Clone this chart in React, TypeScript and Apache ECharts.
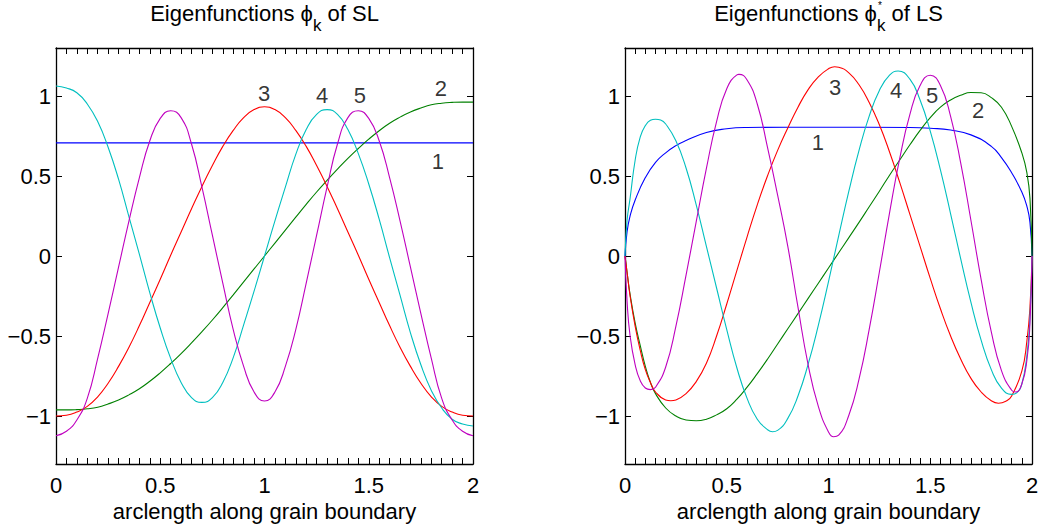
import React, { useEffect, useRef } from 'react';
import * as echarts from 'echarts';

const FONT = '"Liberation Sans", Arial, Helvetica, sans-serif';
const FS = 22;

// ---------- axes ----------
const xTicks = [0, 0.5, 1, 1.5, 2];
const yTicks = [-1, -0.5, 0, 0.5, 1];
const curveIds = ['1', '2', '3', '4', '5'];
const lineColors = ['#0000ff', '#008000', '#ff0000', '#00bfbf', '#bf00bf'];

// ---------- left panel: eigenfunctions of SL ----------
const slX = [0, 0.05, 0.1, 0.15, 0.2, 0.25, 0.3, 0.35, 0.4, 0.45, 0.5, 0.55, 0.6, 0.65, 0.7, 0.75, 0.8, 0.85, 0.9, 0.95, 1,
  1.05, 1.1, 1.15, 1.2, 1.25, 1.3, 1.35, 1.4, 1.45, 1.5, 1.55, 1.6, 1.65, 1.7, 1.75, 1.8, 1.85, 1.9, 1.95, 2];
const slBlueX = [0, 2];
const slBlue = [0.707, 0.707];
const slGreen = [-0.962, -0.962, -0.96, -0.955, -0.945, -0.925, -0.9, -0.868, -0.83, -0.783, -0.73, -0.672, -0.61, -0.543, -0.473, -0.4, -0.323, -0.243, -0.162, -0.081, 0,
  0.081, 0.162, 0.243, 0.323, 0.4, 0.473, 0.543, 0.61, 0.672, 0.73, 0.783, 0.83, 0.868, 0.9, 0.925, 0.945, 0.955, 0.96, 0.962, 0.962];
const slRed = [-1.0, -0.995, -0.975, -0.94, -0.88, -0.795, -0.69, -0.57, -0.435, -0.29, -0.145, 0.005, 0.15, 0.295, 0.435, 0.565, 0.685, 0.785, 0.865, 0.915, 0.933,
  0.915, 0.865, 0.785, 0.685, 0.565, 0.435, 0.295, 0.15, 0.005, -0.145, -0.29, -0.435, -0.57, -0.69, -0.795, -0.88, -0.94, -0.975, -0.995, -1.0];
const slCyan = [1.0625, 1.05, 1.02, 0.95, 0.84, 0.68, 0.48, 0.245, 0.01, -0.23, -0.45, -0.64, -0.79, -0.885, -0.915, -0.885, -0.79, -0.635, -0.43, -0.22, 0,
  0.22, 0.43, 0.635, 0.79, 0.885, 0.915, 0.885, 0.79, 0.64, 0.45, 0.23, -0.01, -0.245, -0.48, -0.68, -0.84, -0.95, -1.02, -1.05, -1.0625];
const slMagenta = [-1.123, -1.095, -1.025, -0.89, -0.64, -0.36, -0.07, 0.22, 0.49, 0.72, 0.86, 0.908, 0.865, 0.7, 0.43, 0.13, -0.17, -0.46, -0.69, -0.85, -0.906,
  -0.85, -0.69, -0.46, -0.17, 0.13, 0.43, 0.7, 0.865, 0.908, 0.86, 0.72, 0.49, 0.22, -0.07, -0.36, -0.64, -0.89, -1.025, -1.095, -1.123];
const slLabelPos = [[1.832, 0.592], [1.846, 1.048], [0.998, 1.017], [1.276, 1.004], [1.458, 1.004]];

// ---------- right panel: eigenfunctions of LS ----------
const lsBlue = [[0, 0], [0.01, 0.15], [0.025, 0.25], [0.05, 0.35], [0.1, 0.49], [0.15, 0.585], [0.2, 0.645], [0.25, 0.69], [0.3, 0.722], [0.4, 0.772], [0.5, 0.795], [0.6, 0.803], [0.8, 0.805], [1.0, 0.805], [1.2, 0.805], [1.4, 0.803], [1.5, 0.798], [1.6, 0.787], [1.7, 0.757], [1.8, 0.685], [1.85, 0.615], [1.9, 0.52], [1.95, 0.4], [1.975, 0.31], [1.99, 0.21], [2, 0]];
const lsGreen = [[0, 0], [0.01, -0.1], [0.025, -0.24], [0.05, -0.42], [0.075, -0.56], [0.1, -0.69], [0.125, -0.79], [0.15, -0.86], [0.2, -0.95], [0.25, -1.0], [0.3, -1.025], [0.35, -1.03], [0.4, -1.02], [0.45, -0.993], [0.5, -0.955], [0.55, -0.895], [0.6, -0.82], [0.65, -0.735], [0.7, -0.645], [0.75, -0.55], [0.8, -0.455], [0.85, -0.36], [0.9, -0.265], [0.95, -0.17], [1.0, -0.075], [1.05, 0.02], [1.1, 0.115], [1.15, 0.21], [1.2, 0.308], [1.25, 0.405], [1.3, 0.505], [1.35, 0.6], [1.4, 0.695], [1.45, 0.785], [1.5, 0.865], [1.55, 0.93], [1.6, 0.975], [1.65, 1.005], [1.7, 1.022], [1.75, 1.02], [1.8, 0.99], [1.85, 0.93], [1.9, 0.81], [1.95, 0.645], [1.975, 0.52], [1.99, 0.36], [2, 0]];
const lsRed = [[0, 0], [0.01, -0.1], [0.025, -0.25], [0.05, -0.44], [0.075, -0.59], [0.1, -0.71], [0.125, -0.79], [0.15, -0.85], [0.2, -0.9], [0.225, -0.905], [0.25, -0.9], [0.3, -0.86], [0.35, -0.785], [0.4, -0.67], [0.45, -0.5], [0.5, -0.3], [0.55, -0.09], [0.6, 0.12], [0.65, 0.32], [0.7, 0.5], [0.75, 0.66], [0.8, 0.8], [0.85, 0.93], [0.9, 1.04], [0.95, 1.12], [1.0, 1.17], [1.03, 1.183], [1.05, 1.18], [1.1, 1.145], [1.15, 1.07], [1.2, 0.96], [1.25, 0.82], [1.3, 0.65], [1.35, 0.46], [1.4, 0.26], [1.45, 0.06], [1.5, -0.14], [1.55, -0.33], [1.6, -0.5], [1.65, -0.645], [1.7, -0.765], [1.75, -0.85], [1.8, -0.905], [1.835, -0.92], [1.875, -0.905], [1.9, -0.875], [1.95, -0.72], [1.975, -0.53], [1.99, -0.32], [2, 0]];
const lsCyan = [[0, 0], [0.01, 0.22], [0.025, 0.36], [0.05, 0.6], [0.075, 0.745], [0.1, 0.815], [0.125, 0.848], [0.15, 0.855], [0.175, 0.85], [0.2, 0.825], [0.25, 0.72], [0.3, 0.55], [0.35, 0.32], [0.4, 0.06], [0.45, -0.2], [0.5, -0.46], [0.55, -0.7], [0.6, -0.89], [0.65, -1.02], [0.7, -1.085], [0.725, -1.098], [0.75, -1.09], [0.8, -1.015], [0.85, -0.875], [0.9, -0.676], [0.95, -0.433], [1.0, -0.16], [1.05, 0.126], [1.1, 0.405], [1.15, 0.66], [1.2, 0.874], [1.25, 1.035], [1.3, 1.13], [1.342, 1.156], [1.4, 1.105], [1.45, 0.975], [1.5, 0.78], [1.55, 0.538], [1.6, 0.264], [1.65, -0.02], [1.7, -0.29], [1.75, -0.526], [1.8, -0.71], [1.85, -0.826], [1.9, -0.865], [1.925, -0.855], [1.95, -0.8], [1.975, -0.62], [1.99, -0.38], [2, 0]];
const lsMagenta = [[0, 0], [0.01, -0.28], [0.025, -0.5], [0.05, -0.68], [0.075, -0.78], [0.1, -0.825], [0.125, -0.835], [0.15, -0.82], [0.2, -0.694], [0.25, -0.44], [0.3, -0.12], [0.35, 0.215], [0.4, 0.547], [0.45, 0.84], [0.5, 1.045], [0.55, 1.132], [0.56, 1.135], [0.6, 1.1], [0.65, 0.95], [0.7, 0.68], [0.75, 0.38], [0.8, 0.06], [0.85, -0.32], [0.9, -0.68], [0.95, -0.94], [1.0, -1.1], [1.025, -1.13], [1.05, -1.12], [1.1, -0.995], [1.15, -0.77], [1.2, -0.459], [1.25, -0.1], [1.3, 0.27], [1.35, 0.61], [1.4, 0.885], [1.45, 1.065], [1.5, 1.13], [1.55, 1.066], [1.6, 0.873], [1.65, 0.579], [1.7, 0.222], [1.75, -0.146], [1.8, -0.474], [1.85, -0.716], [1.9, -0.839], [1.92, -0.85], [1.95, -0.8], [1.975, -0.65], [1.99, -0.42], [2, 0]];
const lsLabelPos = [[0.948, 0.71], [1.735, 0.91], [1.032, 1.054], [1.332, 1.036], [1.509, 1.004]];

const xLabel = 'arclength along grain boundary';
const titleLeft = ['Eigenfunctions \u03D5', 'k', ' of SL'];
const titleRight = ['Eigenfunctions \u03D5', 'k', ' of LS'];

function textWidth(s: string, size: number): number {
  const ctx = document.createElement('canvas').getContext('2d');
  if (!ctx) return s.length * size * 0.5;
  ctx.font = `${size}px ${FONT}`;
  return ctx.measureText(s).width;
}

function titleElements(cx: number, parts: string[], sup?: string): any[] {
  const w1 = textWidth(parts[0], FS);
  const w2 = textWidth(parts[1], 17);
  const w3 = textWidth(parts[2], FS);
  const x0 = cx - (w1 + w2 + w3) / 2;
  const els: any[] = [
    { type: 'text', x: x0, y: 13.1, style: { text: parts[0], fontSize: FS, fontFamily: FONT, fill: '#000', align: 'left', verticalAlign: 'middle' } },
    { type: 'text', x: x0 + w1, y: 25.8, style: { text: parts[1], fontSize: 17, fontFamily: FONT, fill: '#000', align: 'left', verticalAlign: 'middle' } },
    { type: 'text', x: x0 + w1 + w2, y: 13.1, style: { text: parts[2], fontSize: FS, fontFamily: FONT, fill: '#000', align: 'left', verticalAlign: 'middle' } },
  ];
  if (sup) {
    els.push({ type: 'text', x: x0 + w1 + 1, y: 5, style: { text: sup, fontSize: 10, fontFamily: FONT, fill: '#000', align: 'left', verticalAlign: 'middle' } });
  }
  return els;
}

const minus = (v: number) => String(v).replace('-', '\u2212');

function axesFor(gi: number) {
  const axisLine = { show: true, onZero: false, lineStyle: { color: '#000', width: 1.3 } };
  const tick = { show: true, inside: true, length: 6, lineStyle: { color: '#000', width: 1 } };
  const xBase = {
    type: 'value', gridIndex: gi, min: 0, max: 2, interval: 0.5,
    axisLine, axisTick: tick,
    minorTick: { show: true, splitNumber: 10, length: 6, lineStyle: { color: '#000', width: 1 } },
    splitLine: { show: false }, minorSplitLine: { show: false },
  };
  const xs = [
    {
      ...xBase, position: 'bottom',
      axisLabel: { show: true, fontSize: FS, fontFamily: FONT, color: '#000', margin: 10, formatter: (v: number) => (xTicks.includes(v) ? String(v) : '') },
      name: xLabel, nameLocation: 'middle', nameGap: 35,
      nameTextStyle: { fontSize: FS, fontFamily: FONT, color: '#000' },
    },
    { ...xBase, position: 'top', axisLabel: { show: false } },
  ];
  const yBase = {
    type: 'value', gridIndex: gi, min: -1.3, max: 1.3,
    axisLine,
    axisTick: { ...tick, customValues: yTicks },
    splitLine: { show: false },
  };
  const ys = [
    { ...yBase, position: 'left', axisLabel: { show: true, customValues: yTicks, fontSize: FS, fontFamily: FONT, color: '#000', margin: 5, formatter: minus } },
    { ...yBase, position: 'right', axisLabel: { show: false } },
  ];
  return { xs, ys };
}

export default function App() {
  const ref = useRef<HTMLDivElement>(null);
  useEffect(() => {
    if (!ref.current) return;
    const chart = echarts.init(ref.current, undefined, { renderer: 'svg' });
    const a0 = axesFor(0);
    const a1 = axesFor(1);

    const slSets = [
      slBlueX.map((x, i) => [x, slBlue[i]]),
      slX.map((x, i) => [x, slGreen[i]]),
      slX.map((x, i) => [x, slRed[i]]),
      slX.map((x, i) => [x, slCyan[i]]),
      slX.map((x, i) => [x, slMagenta[i]]),
    ];
    const lsSets = [lsBlue, lsGreen, lsRed, lsCyan, lsMagenta];

    const series: any[] = [];
    slSets.forEach((d, i) => series.push({
      type: 'line', xAxisIndex: 0, yAxisIndex: 0, data: d, showSymbol: false, symbol: 'none',
      smooth: 0.5, lineStyle: { color: lineColors[i], width: 1.1 }, z: 2 + i,
    }));
    lsSets.forEach((d, i) => series.push({
      type: 'line', xAxisIndex: 2, yAxisIndex: 2, data: d, showSymbol: false, symbol: 'none',
      smooth: 0.5, lineStyle: { color: lineColors[i], width: 1.1 }, z: 2 + i,
    }));
    const labelSeries = (xi: number, pos: number[][]) => ({
      type: 'scatter', xAxisIndex: xi, yAxisIndex: xi, symbolSize: 1,
      itemStyle: { color: 'rgba(0,0,0,0)' }, z: 10, silent: true,
      data: pos.map((p, i) => [p[0], p[1], curveIds[i]]),
      label: { show: true, position: 'inside', formatter: (p: any) => p.data[2], fontSize: FS, fontFamily: FONT, color: '#000' },
    });
    series.push(labelSeries(0, slLabelPos));
    series.push(labelSeries(2, lsLabelPos));

    chart.setOption({
      animation: false,
      backgroundColor: '#fff',
      textStyle: { fontFamily: FONT },
      grid: [
        { left: 56, top: 48, width: 417, height: 416, containLabel: false },
        { left: 625, top: 48, width: 407, height: 416, containLabel: false },
      ],
      xAxis: [...a0.xs, ...a1.xs],
      yAxis: [...a0.ys, ...a1.ys],
      series,
      graphic: [
        ...titleElements(264.5, titleLeft),
        ...titleElements(828.5, titleRight, '*'),
      ],
    });
    return () => chart.dispose();
  }, []);
  return <div ref={ref} style={{ position: 'absolute', left: 0, top: 0, width: 1055, height: 529, background: '#fff' }} />;
}
